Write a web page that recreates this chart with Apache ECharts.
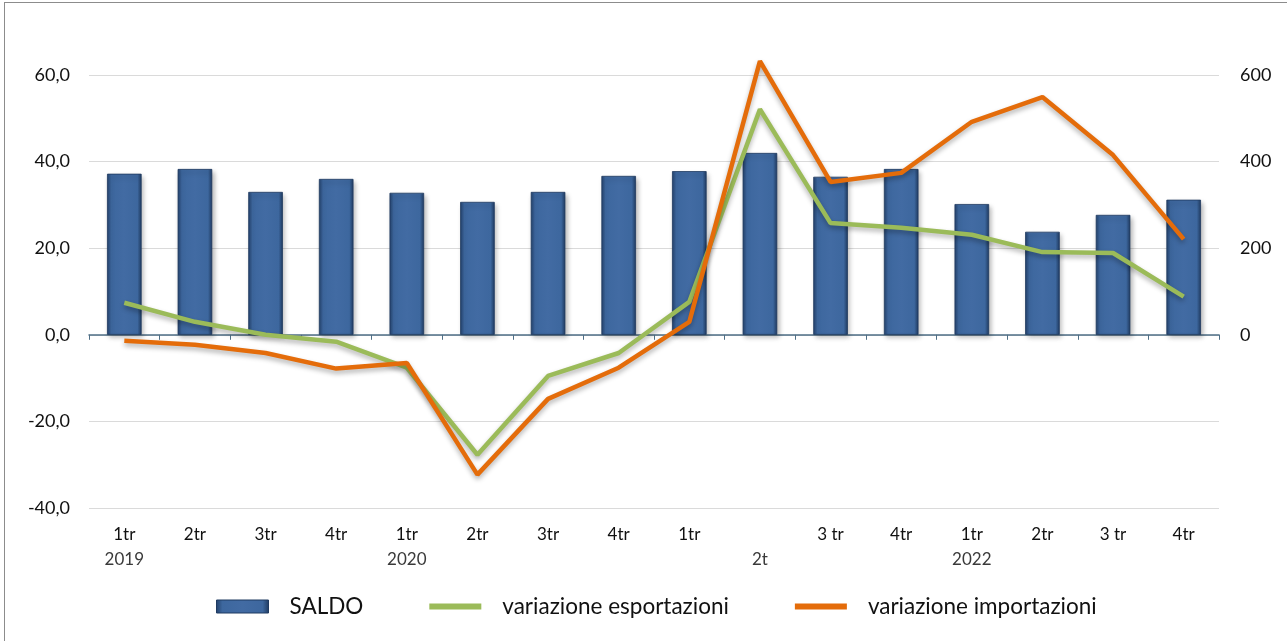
<!DOCTYPE html>
<html>
<head>
<meta charset="utf-8">
<script src="https://cdn.jsdelivr.net/npm/echarts@6/dist/echarts.min.js"></script>
<style>
  html, body { margin: 0; padding: 0; background: #fff; }
  #frame { position: absolute; left: 4px; top: 2px; width: 1300px; height: 660px; border: 1px solid #8c8c8c; box-sizing: border-box; }
  #chart { position: absolute; left: 0; top: 0; width: 1287px; height: 641px; }
</style>
</head>
<body>
<div id="frame"></div>
<div id="chart"></div>
<script>
// quarters (first line) and year (second line)
const quarters = ['1tr', '2tr', '3tr', '4tr', '1tr', '2tr', '3tr', '4tr', '1tr', '', '3 tr', '4tr', '1tr', '2tr', '3 tr', '4tr'];
const years = ['2019', '', '', '', '2020', '', '', '', '', '2t', '', '', '2022', '', '', ''];

// SALDO (right axis)
const saldo = [372, 383, 330, 360, 328, 307, 330, 367, 378, 420, 365, 383, 302, 238, 277, 312];
// variazioni % (left axis)
const esportazioni = [7.4, 3.0, 0.0, -1.6, -7.6, -27.7, -9.5, -4.2, 7.6, 52.1, 25.8, 24.7, 23.1, 19.1, 18.9, 8.8];
const importazioni = [-1.4, -2.3, -4.2, -7.8, -6.5, -32.3, -14.8, -7.6, 3.0, 63.2, 35.3, 37.4, 49.2, 54.9, 41.5, 22.1];

const leftTicks = { min: -40, max: 60, interval: 20 };
const rightTicks = { min: -400, max: 600, interval: 200 };

const categories = quarters.map((q, i) => q + '\n' + years[i]);

const chart = echarts.init(document.getElementById('chart'));
const font = 'Lato, "Open Sans", sans-serif';

const barColor = new echarts.graphic.LinearGradient(0, 0, 1, 0, [
  { offset: 0, color: '#23416b' },
  { offset: 0.12, color: '#3d679e' },
  { offset: 0.5, color: '#426ba3' },
  { offset: 0.88, color: '#3d679e' },
  { offset: 1, color: '#1f3a60' }
]);

// thin bar used as legend icon for the lines
const lineIcon = 'path://M0,0L52,0L52,6L0,6Z';

const option = {
  animation: false,
  textStyle: { fontFamily: font },
  grid: { left: 89, right: 68, top: 75, bottom: 133 },
  legend: {
    top: 590,
    left: 211,
    itemWidth: 52,
    itemHeight: 13,
    itemGap: 66,
    symbolKeepAspect: true,
    textStyle: { fontSize: 22.5, color: '#111', fontFamily: font, padding: [0, 0, 0, 16] },
    data: [
      { name: 'SALDO', icon: 'rect', itemStyle: { color: barColor, borderColor: '#1f3a60', borderWidth: 1 } },
      { name: 'variazione esportazioni', icon: lineIcon, itemStyle: { color: '#9bbb59' } },
      { name: 'variazione importazioni', icon: lineIcon, itemStyle: { color: '#e46c0a' } }
    ]
  },
  xAxis: [
    {
      type: 'category',
      data: categories,
      position: 'bottom',
      axisLine: { show: false, onZero: false },
      axisTick: { show: false },
      axisLabel: {
        interval: 0,
        margin: 14,
        color: '#111',
        fontSize: 17,
        lineHeight: 25,
        formatter: function (v) {
          const parts = v.split('\n');
          return parts[0] + '\n{y|' + parts[1] + '}';
        },
        rich: { y: { fontSize: 17, color: '#3a3a3a', lineHeight: 25 } }
      }
    },
    {
      type: 'category',
      data: categories,
      position: 'bottom',
      axisLine: { show: true, onZero: true, onZeroAxisIndex: 0, lineStyle: { color: '#4f6f86', width: 1.5 } },
      axisTick: { show: true, length: 5, inside: false, lineStyle: { color: '#4f6f86' } },
      axisLabel: { show: false }
    }
  ],
  yAxis: [
    {
      type: 'value',
      min: leftTicks.min,
      max: leftTicks.max,
      interval: leftTicks.interval,
      axisLine: { show: false },
      axisTick: { show: false },
      axisLabel: {
        color: '#111',
        fontSize: 18,
        margin: 19,
        formatter: v => v.toFixed(1).replace('.', ',')
      },
      splitLine: { lineStyle: { color: '#dadada', width: 1.2 } }
    },
    {
      type: 'value',
      min: rightTicks.min,
      max: rightTicks.max,
      interval: rightTicks.interval,
      axisLine: { show: false },
      axisTick: { show: false },
      axisLabel: {
        color: '#111',
        fontSize: 18,
        margin: 21,
        formatter: v => (v >= 0 ? String(v) : '')
      },
      splitLine: { show: false }
    }
  ],
  series: [
    {
      name: 'SALDO',
      type: 'bar',
      xAxisIndex: 0,
      yAxisIndex: 1,
      data: saldo,
      barWidth: '49%',
      itemStyle: {
        color: barColor,
        borderColor: '#1f3a60',
        borderWidth: 0.8,
        shadowColor: 'rgba(0,0,0,0.3)',
        shadowBlur: 5,
        shadowOffsetX: 2,
        shadowOffsetY: 3
      }
    },
    {
      name: 'variazione esportazioni',
      type: 'line',
      xAxisIndex: 0,
      yAxisIndex: 0,
      data: esportazioni,
      symbol: 'none',
      clip: false,
      color: '#9bbb59',
      lineStyle: {
        color: '#9bbb59',
        width: 4.5,
        shadowColor: 'rgba(0,0,0,0.3)',
        shadowBlur: 5,
        shadowOffsetY: 3
      },
      z: 3
    },
    {
      name: 'variazione importazioni',
      type: 'line',
      xAxisIndex: 0,
      yAxisIndex: 0,
      data: importazioni,
      symbol: 'none',
      clip: false,
      color: '#e46c0a',
      lineStyle: {
        color: '#e46c0a',
        width: 4.5,
        shadowColor: 'rgba(0,0,0,0.3)',
        shadowBlur: 5,
        shadowOffsetY: 3
      },
      z: 4
    }
  ]
};

chart.setOption(option);
</script>
</body>
</html>
